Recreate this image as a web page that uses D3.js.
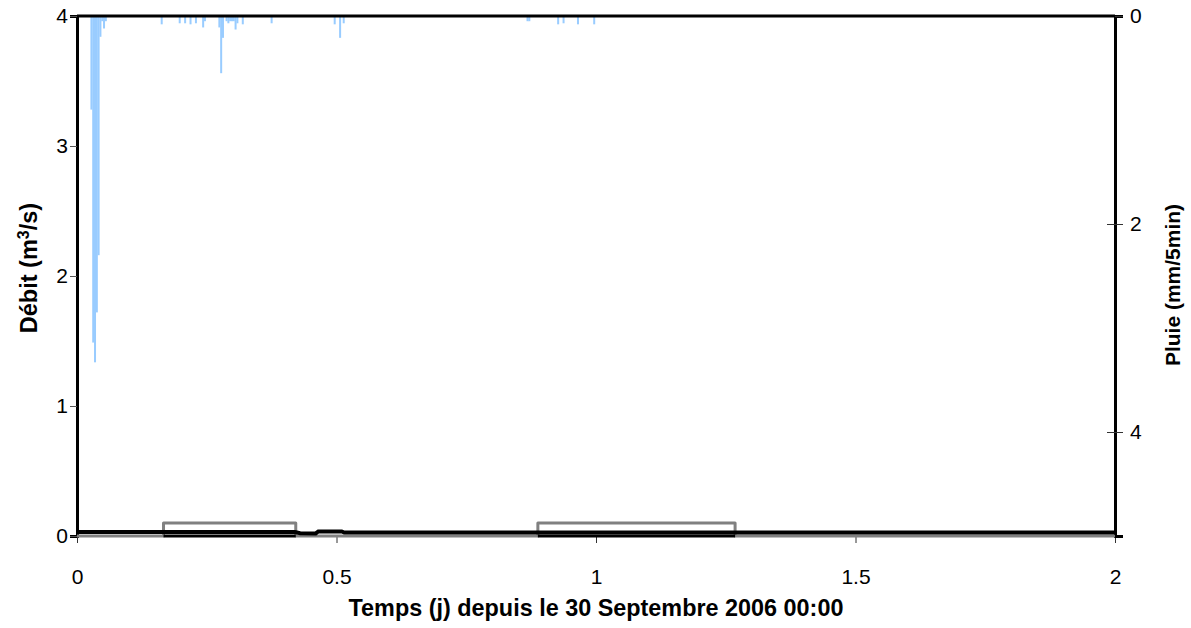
<!DOCTYPE html>
<html><head><meta charset="utf-8">
<script src="https://cdn.jsdelivr.net/npm/d3@7/dist/d3.min.js"></script>
<style>body{margin:0;background:#fff}svg{display:block}text{font-family:"Liberation Sans",Arial,sans-serif}</style>
</head><body><svg id="c" width="1191" height="628"></svg>
<script>
// Rain: time step index (5-min steps from start) and value (mm/5min)
const rainStep = [8,9,10,11,12,13,14,15,16,47,57,60,63,66,70,71,79,80,81,83,84,85,86,87,88,89,92,108,143,146,148,250,251,267,270,278,287];
const rainValue = [0.9,3.14,3.33,2.85,2.3,0.2,0.05,0.12,0.05,0.08,0.07,0.07,0.08,0.07,0.11,0.05,0.11,0.55,0.21,0.05,0.07,0.05,0.05,0.05,0.13,0.07,0.08,0.07,0.08,0.21,0.07,0.05,0.05,0.08,0.07,0.08,0.08];
// Discharge (m3/s)
const qTime = [0,0.42,0.43,0.46,0.465,0.51,0.515,2];
const qValue = [0.03,0.03,0.022,0.02,0.035,0.035,0.027,0.027];
// Gray series (m3/s) – rectangular pulses
const gTime = [0,0.1667,0.1667,0.4215,0.4215,0.888,0.888,1.268,1.268,2];
const gValue = [0,0,0.1,0.1,0,0,0.1,0.1,0,0];
// Black zero segments during pulses
const zStart = [0.1667,0.888];
const zEnd = [0.4215,1.268];
const xTicks = [0,0.5,1,1.5,2];
const yTicks = [0,1,2,3,4];
const y2Ticks = [0,2,4];

const svg = d3.select("#c");
const L=77,R=1115,T=16,B=536;
const x = d3.scaleLinear().domain([0,2]).range([L,R]);
const y = d3.scaleLinear().domain([0,4]).range([B,T]);
const y2 = d3.scaleLinear().domain([0,5]).range([T,B]);
const stepDays = 1/288;

// rain bars
svg.append("g").selectAll("rect").data(rainStep.map((s,i)=>({t:s*stepDays,v:rainValue[i]}))).join("rect")
  .attr("x",d=>x(d.t)-1).attr("width",2)
  .attr("y",y2(0)).attr("height",d=>y2(d.v)-y2(0))
  .attr("fill","#99ccff");

// x axis
const gx = svg.append("g").attr("transform",`translate(0,${B})`)
  .call(d3.axisBottom(x).tickValues(xTicks).tickSize(7).tickPadding(26).tickFormat(d3.format("")));
gx.select(".domain").attr("stroke","#808080").attr("stroke-width",1);
gx.selectAll(".tick line").attr("stroke","#333");
gx.selectAll("text").attr("font-size",21).attr("fill","#000");

// left axis
const gy = svg.append("g").attr("transform",`translate(${L},0)`)
  .call(d3.axisLeft(y).tickValues(yTicks).tickSize(7).tickPadding(2).tickFormat(d3.format("d")));
gy.select(".domain").attr("stroke","#000").attr("stroke-width",3);
gy.selectAll(".tick line").attr("stroke","#555");
gy.selectAll("text").attr("font-size",21).attr("fill","#000");

// right axis
const gy2 = svg.append("g").attr("transform",`translate(${R},0)`)
  .call(d3.axisRight(y2).tickValues(y2Ticks).tickSize(8).tickPadding(7).tickFormat(d3.format("d")));
gy2.select(".domain").attr("stroke","#000").attr("stroke-width",3);
gy2.selectAll(".tick line").attr("stroke","#333").attr("x1",-8);
gy2.selectAll("text").attr("font-size",21).attr("fill","#000");

// top border
svg.append("line").attr("x1",L).attr("x2",R).attr("y1",T).attr("y2",T).attr("stroke","#000").attr("stroke-width",3);

// gray series
const line = d3.line().x(d=>x(d[0])).y(d=>y(d[1]));
svg.append("path").datum(gTime.map((t,i)=>[t,gValue[i]])).attr("d",line)
  .attr("fill","none").attr("stroke","#808080").attr("stroke-width",3).attr("stroke-linejoin","round");
// black zero segments
zStart.forEach((s,i)=>{
  svg.append("path").datum([[s,0],[zEnd[i],0]]).attr("d",line)
    .attr("fill","none").attr("stroke","#000").attr("stroke-width",3);
});
// discharge
svg.append("path").datum(qTime.map((t,i)=>[t,qValue[i]])).attr("d",line)
  .attr("fill","none").attr("stroke","#000").attr("stroke-width",4);

// titles
svg.append("text").attr("x",(L+R)/2).attr("y",616).attr("text-anchor","middle")
  .attr("font-size",23.4).attr("font-weight","bold").text("Temps (j) depuis le 30 Septembre 2006 00:00");
const lt = svg.append("text").attr("transform","translate(37,268) rotate(-90)").attr("text-anchor","middle")
  .attr("font-size",23.5).attr("font-weight","bold");
lt.append("tspan").text("Débit (m");
lt.append("tspan").attr("baseline-shift","super").attr("font-size",16).text("3");
lt.append("tspan").text("/s)");
svg.append("text").attr("transform","translate(1180,285) rotate(-90)").attr("text-anchor","middle")
  .attr("font-size",21).attr("font-weight","bold").text("Pluie (mm/5min)");
</script></body></html>
